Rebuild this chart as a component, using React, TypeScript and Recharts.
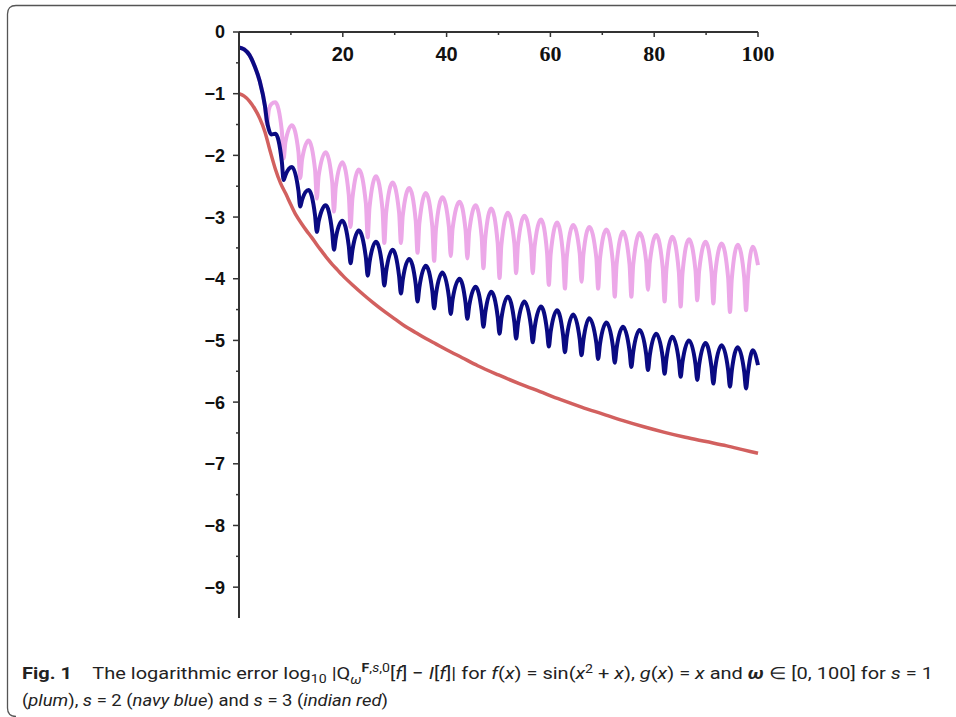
import { Line, LineChart, XAxis, YAxis } from 'recharts'

// ω grid shared by s = 1 and s = 2: start, then for every hump the trough,
// the two points beside it and the next peak
const omega = [
  0, 1, 2, 3, 4, 5, 5.4, 5.75, 6.2, 7.0,
  8.25, 8.6, 8.95, 10.2,
  11.45, 11.8, 12.15, 13.4,
  14.65, 15.0, 15.35, 16.7,
  17.95, 18.3, 18.65, 19.9,
  21.15, 21.5, 21.85, 23.1,
  24.45, 24.8, 25.15, 26.4,
  27.65, 28.0, 28.35, 29.6,
  30.85, 31.2, 31.55, 32.8,
  34.05, 34.4, 34.75, 36.0,
  37.25, 37.6, 37.95, 39.2,
  40.45, 40.8, 41.15, 42.5,
  43.65, 44.0, 44.35, 45.6,
  46.75, 47.1, 47.45, 48.6,
  49.85, 50.2, 50.55, 51.8,
  53.05, 53.4, 53.75, 55.0,
  56.25, 56.6, 56.95, 58.2,
  59.35, 59.7, 60.05, 61.3,
  62.45, 62.8, 63.15, 64.4,
  65.65, 66.0, 66.35, 67.5,
  68.85, 69.2, 69.55, 70.8,
  72.05, 72.4, 72.75, 74.0,
  75.25, 75.6, 75.95, 77.2,
  78.45, 78.8, 79.15, 80.4,
  81.65, 82.0, 82.35, 83.5,
  84.75, 85.1, 85.45, 86.7,
  87.95, 88.3, 88.65, 89.9,
  91.05, 91.4, 91.75, 93.0,
  94.25, 94.6, 94.95, 96.1,
  97.35, 97.7, 98.05, 99.0,
  100,
]

// s = 1 (plum)
const plum = [
  -0.25, -0.28, -0.37, -0.55, -0.8, -1.2, -1.5, -1.26, -1.17, -1.14,
  -1.6, -2.05, -1.78, -1.51,
  -1.94, -2.37, -2.07, -1.76,
  -2.23, -2.7, -2.33, -1.95,
  -2.43, -2.91, -2.51, -2.11,
  -2.64, -3.16, -2.7, -2.23,
  -2.78, -3.33, -2.84, -2.34,
  -2.88, -3.42, -2.93, -2.44,
  -2.93, -3.42, -2.98, -2.53,
  -3.06, -3.58, -3.1, -2.61,
  -3.16, -3.71, -3.2, -2.68,
  -3.16, -3.63, -3.19, -2.75,
  -3.21, -3.67, -3.24, -2.81,
  -3.32, -3.83, -3.35, -2.86,
  -3.43, -3.99, -3.46, -2.93,
  -3.42, -3.91, -3.45, -2.98,
  -3.45, -3.91, -3.48, -3.04,
  -3.57, -4.1, -3.6, -3.09,
  -3.63, -4.16, -3.65, -3.13,
  -3.59, -4.05, -3.61, -3.16,
  -3.66, -4.16, -3.68, -3.2,
  -3.75, -4.29, -3.77, -3.24,
  -3.77, -4.29, -3.78, -3.26,
  -3.72, -4.18, -3.74, -3.29,
  -3.83, -4.37, -3.85, -3.32,
  -3.89, -4.45, -3.91, -3.36,
  -3.86, -4.35, -3.88, -3.4,
  -3.9, -4.4, -3.92, -3.43,
  -3.99, -4.54, -4.0, -3.45,
  -3.98, -4.51, -4.0, -3.48,
  -3.78,
]

// s = 2 (navy blue)
const navy = [
  -0.25, -0.28, -0.37, -0.55, -0.8, -1.2, -1.45, -1.58, -1.66, -1.65,
  -2.1, -2.4, -2.32, -2.19,
  -2.57, -2.83, -2.72, -2.56,
  -2.97, -3.24, -3.07, -2.81,
  -3.24, -3.53, -3.34, -3.06,
  -3.47, -3.75, -3.54, -3.22,
  -3.66, -3.95, -3.73, -3.4,
  -3.83, -4.11, -3.88, -3.53,
  -3.96, -4.24, -4.02, -3.68,
  -4.09, -4.37, -4.14, -3.79,
  -4.2, -4.48, -4.25, -3.9,
  -4.3, -4.57, -4.34, -4.0,
  -4.39, -4.65, -4.44, -4.13,
  -4.52, -4.78, -4.55, -4.21,
  -4.62, -4.89, -4.65, -4.29,
  -4.7, -4.97, -4.73, -4.37,
  -4.77, -5.03, -4.8, -4.45,
  -4.84, -5.1, -4.86, -4.51,
  -4.92, -5.19, -4.95, -4.58,
  -4.98, -5.24, -5.0, -4.64,
  -5.04, -5.3, -5.06, -4.71,
  -5.1, -5.36, -5.13, -4.78,
  -5.17, -5.43, -5.19, -4.83,
  -5.22, -5.48, -5.24, -4.89,
  -5.28, -5.54, -5.3, -4.94,
  -5.33, -5.59, -5.35, -5.0,
  -5.38, -5.64, -5.4, -5.04,
  -5.44, -5.7, -5.45, -5.08,
  -5.48, -5.75, -5.49, -5.11,
  -5.51, -5.78, -5.53, -5.16,
  -5.4,
]

// s = 3 (indian red), smooth
const redOmega = [
  0, 1, 2, 3, 4, 5, 6, 7, 8, 9, 10, 11, 12, 13, 14, 15, 16, 17, 18, 19, 20,
  22, 24, 26, 28, 30, 32, 34, 36, 38, 40, 43, 46, 50, 54, 58, 62, 66, 70,
  74, 78, 82, 86, 90, 94, 97, 100,
]
const indianRed = [
  -1.0, -1.04, -1.12, -1.24, -1.4, -1.62, -1.93, -2.22, -2.45, -2.62, -2.8,
  -2.97, -3.1, -3.22, -3.33, -3.45, -3.56, -3.67, -3.77, -3.86, -3.95,
  -4.11, -4.26, -4.4, -4.53, -4.65, -4.77, -4.87, -4.97, -5.06, -5.15,
  -5.28, -5.41, -5.56, -5.7, -5.83, -5.96, -6.08, -6.19, -6.3, -6.4,
  -6.49, -6.57, -6.64, -6.71, -6.77, -6.83,
]

const xTicks = [10, 20, 30, 40, 50, 60, 70, 80, 90, 100]
const yTicks = [
  0, -0.5, -1, -1.5, -2, -2.5, -3, -3.5, -4, -4.5, -5, -5.5, -6, -6.5, -7,
  -7.5, -8, -8.5, -9,
]

const s1 = omega.map((w, i) => ({ w, v: plum[i] }))
const s2 = omega.map((w, i) => ({ w, v: navy[i] }))
const s3 = redOmega.map((w, i) => ({ w, v: indianRed[i] }))

const sans = "'Liberation Sans', Arial, sans-serif"
const serif = "'Liberation Serif', 'Times New Roman', serif"
const captionFont = "'Liberation Sans Narrow', Roboto, sans-serif"
const axisColor = '#333'

function XTick(props: any) {
  const { x, y, payload } = props
  const v = payload.value
  const axisY = y - 14
  const major = v % 20 === 0
  return (
    <g>
      <line x1={x} x2={x} y1={axisY} y2={axisY + (major ? 5 : 3)} stroke={axisColor} strokeWidth={1.5} />
      {major && (
        <text
          x={x}
          y={axisY + 29}
          textAnchor='middle'
          fontFamily={v >= 60 ? serif : sans}
          fontWeight='bold'
          fontSize={v >= 60 ? 22 : 20}
          fill='#111'
        >
          {v}
        </text>
      )}
    </g>
  )
}

function YTick(props: any) {
  const { x, y, payload } = props
  const v = payload.value
  const axisX = x + 13
  const major = Number.isInteger(v)
  return (
    <g>
      <line x1={axisX - (major ? 6 : 3)} x2={axisX} y1={y} y2={y} stroke={axisColor} strokeWidth={1.5} />
      {major && (
        <text x={axisX - 14} y={y} dy='0.36em' textAnchor='end' fontFamily={sans} fontWeight='bold' fontSize={18} fill='#111'>
          {v === 0 ? '0' : '\u2212' + Math.abs(v)}
        </text>
      )}
    </g>
  )
}

export default function App() {
  return (
    <div style={{ position: 'absolute', left: 0, top: 0, width: 956, height: 717, background: '#fff' }}>
      <LineChart width={956} height={640} margin={{ top: 32, right: 198, bottom: 22, left: 179 }}>
        <XAxis
          dataKey='w'
          type='number'
          domain={[0, 100]}
          ticks={xTicks}
          interval={0}
          orientation='top'
          mirror
          tickSize={5}
          tickMargin={9}
          tickLine={false}
          tick={<XTick />}
          axisLine={{ stroke: axisColor, strokeWidth: 2 }}
        />
        <YAxis
          type='number'
          domain={[-9.5, 0]}
          ticks={yTicks}
          interval={0}
          width={60}
          tickSize={6}
          tickMargin={7}
          tickLine={false}
          tick={<YTick />}
          axisLine={{ stroke: axisColor, strokeWidth: 2 }}
        />
        <Line data={s1} dataKey='v' type='monotone' stroke='#eca8e8' strokeWidth={4} dot={false} activeDot={false} isAnimationActive={false} />
        <Line data={s2} dataKey='v' type='monotone' stroke='#0a0a82' strokeWidth={4} dot={false} activeDot={false} isAnimationActive={false} />
        <Line data={s3} dataKey='v' type='monotone' stroke='#d2605f' strokeWidth={3.5} dot={false} activeDot={false} isAnimationActive={false} />
      </LineChart>
      <svg width={956} height={717} style={{ position: 'absolute', left: 0, top: 0, pointerEvents: 'none' }}>
        <path d='M 16 716.5 Q 7.5 716.5 7.5 708 L 7.5 14 Q 7.5 5.5 16 5.5 L 956 5.5' fill='none' stroke='#555' strokeWidth={1.3} />
        <text x={22} y={679} fontFamily={captionFont} fontSize={17} fill='#222' textLength={911} lengthAdjust='spacingAndGlyphs'>
          <tspan fontWeight='bold'>Fig. 1</tspan>
          <tspan>{'\u2003The logarithmic error log'}</tspan>
          <tspan dy={4} fontSize={12}>10</tspan>
          <tspan dy={-4}>{' |Q'}</tspan>
          <tspan dy={5} fontSize={12} fontStyle='italic'>ω</tspan>
          <tspan dy={-12} fontSize={12}>
            <tspan fontWeight='bold'>F</tspan>,<tspan fontStyle='italic'>s</tspan>,0
          </tspan>
          <tspan dy={7}>[</tspan>
          <tspan fontStyle='italic'>f</tspan>
          <tspan>{'] \u2212 '}</tspan>
          <tspan fontStyle='italic'>I</tspan>
          <tspan>[</tspan>
          <tspan fontStyle='italic'>f</tspan>
          <tspan>{']| for '}</tspan>
          <tspan fontStyle='italic'>f</tspan>
          <tspan>(</tspan>
          <tspan fontStyle='italic'>x</tspan>
          <tspan>{') = sin('}</tspan>
          <tspan fontStyle='italic'>x</tspan>
          <tspan dy={-6} fontSize={12}>2</tspan>
          <tspan dy={6}>{' + '}</tspan>
          <tspan fontStyle='italic'>x</tspan>
          <tspan>{'), '}</tspan>
          <tspan fontStyle='italic'>g</tspan>
          <tspan>(</tspan>
          <tspan fontStyle='italic'>x</tspan>
          <tspan>{') = '}</tspan>
          <tspan fontStyle='italic'>x</tspan>
          <tspan>{' and '}</tspan>
          <tspan fontStyle='italic' fontWeight='bold'>ω</tspan>
          <tspan>{' \u2208 [0, 100] for '}</tspan>
          <tspan fontStyle='italic'>s</tspan>
          <tspan>{' = 1'}</tspan>
        </text>
        <text x={22} y={706} fontFamily={captionFont} fontSize={17} fill='#222' textLength={366} lengthAdjust='spacingAndGlyphs'>
          <tspan>(</tspan>
          <tspan fontStyle='italic'>plum</tspan>
          <tspan>{'), '}</tspan>
          <tspan fontStyle='italic'>s</tspan>
          <tspan>{' = 2 ('}</tspan>
          <tspan fontStyle='italic'>navy blue</tspan>
          <tspan>{') and '}</tspan>
          <tspan fontStyle='italic'>s</tspan>
          <tspan>{' = 3 ('}</tspan>
          <tspan fontStyle='italic'>indian red</tspan>
          <tspan>)</tspan>
        </text>
      </svg>
    </div>
  )
}
